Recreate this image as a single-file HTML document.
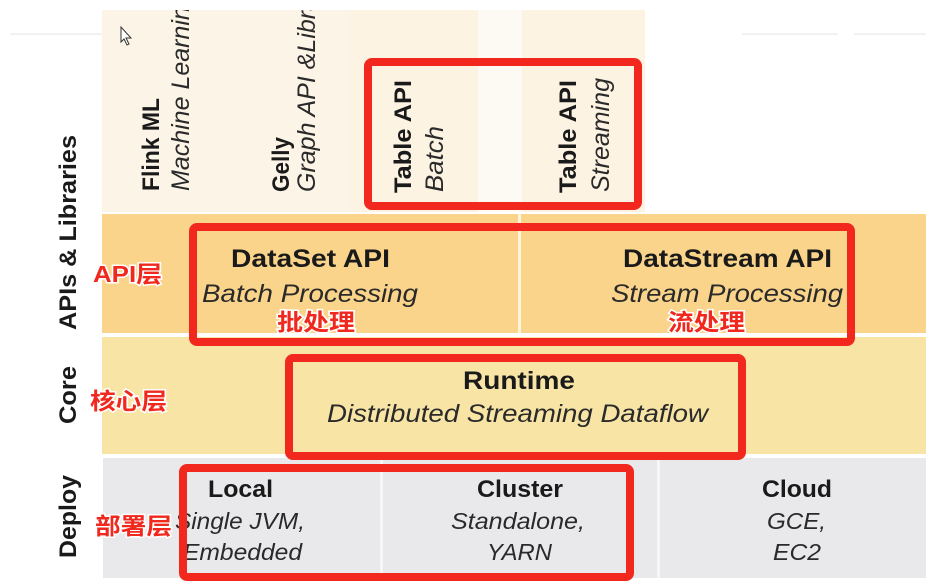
<!DOCTYPE html>
<html><head><meta charset="utf-8"><style>
html,body{margin:0;padding:0;background:#fff;width:926px;height:586px;overflow:hidden}
svg{display:block}
.b{font-family:"Liberation Sans",sans-serif;font-weight:bold;fill:#1a1a1a}
.i{font-family:"Liberation Sans",sans-serif;font-style:italic;fill:#2a2a2a}
.r{font-family:"Liberation Sans","Noto Sans CJK SC",sans-serif;font-weight:bold;fill:#f0281e;stroke:#fff;stroke-width:3;paint-order:stroke;font-size:23px}
</style></head><body>
<svg width="926" height="586" viewBox="0 0 926 586" xmlns="http://www.w3.org/2000/svg">
<defs><clipPath id="top"><rect x="102" y="10" width="560" height="205"/></clipPath></defs>
<line x1="10" y1="34" x2="102" y2="34" stroke="#e6e6e6"/>
<line x1="742" y1="34" x2="838" y2="34" stroke="#e6e6e6"/>
<line x1="854" y1="34" x2="926" y2="34" stroke="#e6e6e6"/>
<rect x="102" y="10" width="248" height="202" fill="#fcf4e6"/>
<rect x="350" y="10" width="128" height="202" fill="#fcf3e2"/>
<rect x="478" y="10" width="44" height="202" fill="#fdfaf4"/>
<rect x="522" y="10" width="123" height="202" fill="#fcf3e2"/>
<rect x="102" y="214" width="824" height="119" fill="#fad48a"/>
<rect x="518" y="214" width="3" height="119" fill="#fff4e0"/>
<rect x="102" y="337" width="824" height="117" fill="#f8e5a6"/>
<rect x="103" y="458" width="823" height="120" fill="#e9e9eb"/>
<rect x="380" y="458" width="3" height="120" fill="#f6f6f6"/>
<rect x="657" y="458" width="3" height="120" fill="#f6f6f6"/>
<text class="b" font-size="24" transform="translate(76,330) rotate(-90)" textLength="195" lengthAdjust="spacingAndGlyphs">APIs &amp; Libraries</text>
<text class="b" font-size="24" transform="translate(76,424) rotate(-90)" textLength="58" lengthAdjust="spacingAndGlyphs">Core</text>
<text class="b" font-size="24" transform="translate(76,558) rotate(-90)" textLength="83" lengthAdjust="spacingAndGlyphs">Deploy</text>
<g clip-path="url(#top)">
<text class="b" font-size="24" transform="translate(159,191) rotate(-90)" textLength="93" lengthAdjust="spacingAndGlyphs">Flink ML</text>
<text class="i" font-size="25" transform="translate(189,191) rotate(-90)">Machine Learning</text>
<text class="b" font-size="24" transform="translate(289,192) rotate(-90)" textLength="55" lengthAdjust="spacingAndGlyphs">Gelly</text>
<text class="i" font-size="25" transform="translate(315,192) rotate(-90)">Graph API &amp;Library</text>
<text class="b" font-size="24" transform="translate(411,193) rotate(-90)" textLength="113" lengthAdjust="spacingAndGlyphs">Table API</text>
<text class="i" font-size="25" transform="translate(443,192) rotate(-90)" textLength="66" lengthAdjust="spacingAndGlyphs">Batch</text>
<text class="b" font-size="24" transform="translate(576,193) rotate(-90)" textLength="113" lengthAdjust="spacingAndGlyphs">Table API</text>
<text class="i" font-size="25" transform="translate(609,192) rotate(-90)" textLength="114" lengthAdjust="spacingAndGlyphs">Streaming</text>
</g>
<text class="b" font-size="25" x="231" y="267" textLength="159" lengthAdjust="spacingAndGlyphs">DataSet API</text>
<text class="i" font-size="25" x="202" y="302" textLength="216" lengthAdjust="spacingAndGlyphs">Batch Processing</text>
<text class="b" font-size="25" x="623" y="267" textLength="209" lengthAdjust="spacingAndGlyphs">DataStream API</text>
<text class="i" font-size="25" x="611" y="302" textLength="232" lengthAdjust="spacingAndGlyphs">Stream Processing</text>
<text class="b" font-size="25" x="463" y="389" textLength="112" lengthAdjust="spacingAndGlyphs">Runtime</text>
<text class="i" font-size="25" x="327" y="422" textLength="381" lengthAdjust="spacingAndGlyphs">Distributed Streaming Dataflow</text>
<text class="b" font-size="24" x="208" y="497" textLength="65" lengthAdjust="spacingAndGlyphs">Local</text>
<text class="i" font-size="23" x="175" y="529" textLength="130" lengthAdjust="spacingAndGlyphs">Single JVM,</text>
<text class="i" font-size="23" x="183" y="560" textLength="119" lengthAdjust="spacingAndGlyphs">Embedded</text>
<text class="b" font-size="24" x="477" y="497" textLength="86" lengthAdjust="spacingAndGlyphs">Cluster</text>
<text class="i" font-size="23" x="451" y="529" textLength="134" lengthAdjust="spacingAndGlyphs">Standalone,</text>
<text class="i" font-size="23" x="487" y="560" textLength="65" lengthAdjust="spacingAndGlyphs">YARN</text>
<text class="b" font-size="24" x="762" y="497" textLength="70" lengthAdjust="spacingAndGlyphs">Cloud</text>
<text class="i" font-size="23" x="767" y="529" textLength="59" lengthAdjust="spacingAndGlyphs">GCE,</text>
<text class="i" font-size="23" x="773" y="560" textLength="48" lengthAdjust="spacingAndGlyphs">EC2</text>
<g fill="none" stroke="#f2281f" stroke-width="8">
<rect x="368" y="62" width="270" height="144" rx="4"/>
<rect x="193" y="227" width="658" height="115" rx="4"/>
<rect x="289" y="358" width="453" height="98" rx="4"/>
<rect x="183" y="468" width="447" height="109" rx="4"/>
</g>
<text class="r" x="93" y="282" textLength="69" lengthAdjust="spacingAndGlyphs">API层</text>
<text class="r" x="90" y="409" textLength="77" lengthAdjust="spacingAndGlyphs">核心层</text>
<text class="r" x="95" y="534" textLength="77" lengthAdjust="spacingAndGlyphs">部署层</text>
<text class="r" x="277" y="330" textLength="78" lengthAdjust="spacingAndGlyphs">批处理</text>
<text class="r" x="668" y="330" textLength="77" lengthAdjust="spacingAndGlyphs">流处理</text>
<path d="M121 27 L121 42 L124 39 L127 45 L129 44 L126 38 L131 38 Z" fill="#fff" stroke="#333" stroke-width="1"/>
</svg>
</body></html>
